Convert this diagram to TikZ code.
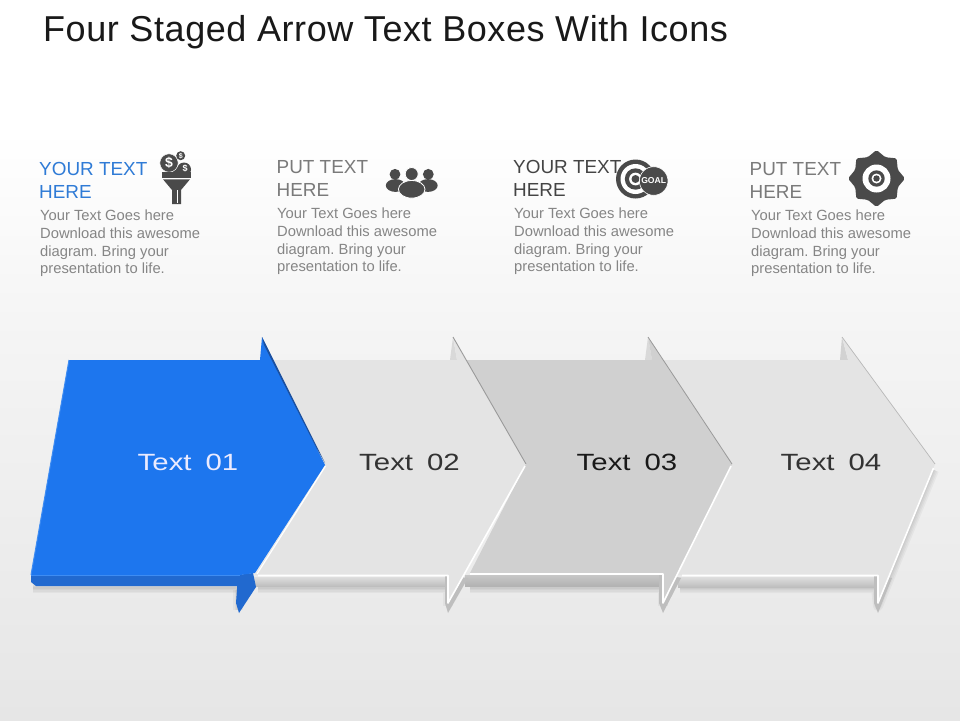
\documentclass[tikz,border=0pt]{standalone}
\usepackage{fontspec}
\setmainfont{Liberation Sans}
\newfontfamily\stagefont[FakeStretch=1.25]{Liberation Sans}
\newfontfamily\titlefont[LetterSpace=1.6]{Liberation Sans}
\frenchspacing
\usetikzlibrary{calc}
\definecolor{blueface}{HTML}{1D76EE}
\definecolor{blueside}{HTML}{2169CF}
\definecolor{bluedark}{HTML}{1B4F9E}
\definecolor{bluelight}{HTML}{3E8CF2}
\definecolor{greyface}{HTML}{E4E4E4}
\definecolor{midface}{HTML}{D0D0D0}
\definecolor{sidegrey}{HTML}{BEBEBE}
\definecolor{sidelight}{HTML}{DEDEDE}
\definecolor{edgegrey}{HTML}{9A9A9A}
\definecolor{headblue}{HTML}{2F7BD6}
\definecolor{headgrey}{HTML}{7A7A7A}
\definecolor{headdark}{HTML}{444444}
\definecolor{bodygrey}{HTML}{858585}
\definecolor{icongrey}{HTML}{4A4A4A}
\definecolor{bgmid}{HTML}{F4F4F4}
\definecolor{bgend}{HTML}{E6E6E6}
\tikzset{
  x=1pt,y=-1pt,
  head/.style={anchor=north west,inner sep=0pt,align=left,font=\fontsize{18.9}{23}\selectfont},
  bodytext/.style={anchor=north west,inner sep=0pt,align=left,text=bodygrey,font=\fontsize{14.75}{17.6}\selectfont},
  stagelabel/.style={inner sep=0pt,font=\stagefont\fontsize{23.5}{26}\selectfont},
  softshadow/.style={draw=black,draw opacity=.035,line cap=butt,line join=round},
  highlight/.style={draw=white,line width=1.6pt,line join=round},
  darkedge/.style={draw=edgegrey,line width=.9pt},
  icon/.style={fill=icongrey,draw=none},
  ringwhite/.style={fill=white,draw=none},
  sideband/.style={top color=sidelight,bottom color=sidegrey,draw=none}
}
\begin{document}
\begin{tikzpicture}
\useasboundingbox (0,0) rectangle (960,720);
% background
\fill[white] (0,0) rectangle (960,130);
\shade[top color=white,bottom color=bgmid] (0,130) rectangle (960,340);
\shade[top color=bgmid,bottom color=bgend] (0,340) rectangle (960,720);

\node[anchor=base west,inner sep=0pt,font=\titlefont\fontsize{36}{39}\selectfont,text=black!90] (title) at (43,41) {Four Staged Arrow Text Boxes With Icons};

% ---- arrow 4
\foreach \w in {10,7,4,1.5}{
  \draw[softshadow,line width=\w pt] (680,588) -- (876,588) -- (878,606) -- (934,470);}
\shade[sideband] (678,577) rectangle (880,587);
\fill[sidegrey!70!white] (840,360) -- (842,337) -- (848,360) -- cycle;
\fill[sidegrey] (874,575) -- (874,603) -- (878,613) -- (892,578) -- cycle;
\fill[greyface] (660,360) -- (848,360) -- (842,337) -- (935,464) -- (878,604) -- (878,575) -- (670,575) -- (732,464) -- cycle;
\draw[highlight] (682,575.5) -- (878,575.5) -- (878,603) -- (933.5,468);
\draw[draw=edgegrey!70!white,line width=.7pt] (842,337) -- (935,464);

% ---- arrow 3
\foreach \w in {10,7,4,1.5}{
  \draw[softshadow,line width=\w pt] (470,588) -- (663,588) -- (663,606);}
\shade[top color=black!22,bottom color=black!30] (465,575) rectangle (665,586);
\fill[white!85!black] (645,360) -- (648,337) -- (652,360) -- cycle;
\fill[sidegrey] (659,573) -- (659,603) -- (663,613) -- (681,578) -- cycle;
\fill[midface] (465,360) -- (652,360) -- (648,337) -- (732,464) -- (663,604) -- (663,573) -- (470,573) -- (526,464) -- cycle;
\draw[highlight] (470,574) -- (663,574) -- (663,603) -- (731,466);
\draw[draw=edgegrey,line width=.8pt] (648,337) -- (732,464);

% ---- arrow 2
\foreach \w in {10,7,4,1.5}{
  \draw[softshadow,line width=\w pt] (258,588) -- (448,588) -- (448,606);}
\shade[sideband] (252,577) rectangle (452,586);
\fill[white!85!black] (450,360) -- (453,337) -- (457,360) -- cycle;
\fill[sidegrey] (445,575) -- (445,603) -- (448,613) -- (468,578) -- cycle;
\fill[greyface] (262,360) -- (457,360) -- (453,337) -- (526,464) -- (448,604) -- (448,575) -- (255,575) -- (325,465) -- cycle;
\draw[highlight] (258,575.5) -- (448,575.5) -- (448,603) -- (525,466);
\draw[darkedge] (453,337) -- (526,464);

% ---- arrow 1
\foreach \w in {10,7,4,1.5}{
  \draw[softshadow,line width=\w pt] (33,588) -- (238,588);
  \draw[softshadow,line width=\w pt] (238,590) -- (238,610);}
\fill[blueside] (31,575) -- (31,582) -- (36,586) -- (240,586) -- (240,575) -- cycle;
\fill[blueside] (238,575) -- (236,603) -- (239,613) -- (256,587) -- (253,573) -- cycle;
\fill[blueface] (69,360) -- (260,360) -- (262,337) -- (325,465) -- (255,573) -- (240,575) -- (31,575) -- cycle;
\fill[bluedark] (262,337) -- (325,463) -- (317,449) -- (264,345) -- cycle;
\draw[bluelight,line width=1pt] (69,360) -- (31,575);
\draw[bluelight,line width=.8pt] (31,575.5) -- (240,575.5);
\draw[white,line width=1.2pt] (325.5,466) -- (257,574);

% stage labels
\node[stagelabel,text=white!92!blue] (t1) at (188,462) {Text\hspace{.25em} 01};
\node[stagelabel,text=black!80] (t2) at (409.5,462) {Text\hspace{.25em} 02};
\node[stagelabel,text=black!90] (t3) at (627,462) {Text\hspace{.25em} 03};
\node[stagelabel,text=black!80] (t4) at (831,462) {Text\hspace{.25em} 04};

% goal icon
\fill[icon] (635.5,179) circle (19.5);
\fill[ringwhite] (635.5,179) circle (15);
\fill[icon] (635.5,179) circle (10.7);
\fill[ringwhite] (635.5,179) circle (6.4);
\fill[icon] (635.5,179) circle (4);
\fill[icon,draw=white,line width=.6pt] (653.7,181) circle (14.3);
\node[inner sep=0pt,text=white,font=\bfseries\fontsize{8.6}{9}\selectfont] (goal) at (653.7,181) {GOAL};

% gear icon
\fill[icon,shift={(876.5,178.5)},rounded corners=1.6pt]
  (0:28.5) -- (22.5:23) -- (45:28.5) -- (67.5:23) -- (90:28.5) -- (112.5:23) -- (135:28.5) -- (157.5:23)
  -- (180:28.5) -- (202.5:23) -- (225:28.5) -- (247.5:23) -- (270:28.5) -- (292.5:23) -- (315:28.5) -- (337.5:23) -- cycle;
\fill[ringwhite] (876.5,178.5) circle (14);
\fill[icon] (876.5,178.5) circle (8.2);
\fill[ringwhite] (876.5,178.5) circle (5);
\fill[icon] (876.5,178.5) circle (3.2);

% text blocks
\node[head,text=headblue] (h1) at (39,162.5) {YOUR TEXT\\HERE};
\node[head,text=headgrey] (h2) at (276.5,160.5) {PUT TEXT\\HERE};
\node[head,text=headdark] (h3) at (513,160.5) {YOUR TEXT\\HERE};
\node[head,text=headgrey] (h4) at (749.5,162.5) {PUT TEXT\\HERE};
\node[bodytext] (b1) at (40,210) {Your Text Goes here\\Download this awesome\\diagram. Bring your\\presentation to life.};
\node[bodytext] (b2) at (277,208) {Your Text Goes here\\Download this awesome\\diagram. Bring your\\presentation to life.};
\node[bodytext] (b3) at (514,208) {Your Text Goes here\\Download this awesome\\diagram. Bring your\\presentation to life.};
\node[bodytext] (b4) at (751,210) {Your Text Goes here\\Download this awesome\\diagram. Bring your\\presentation to life.};

% funnel icon
\fill[icon] (165,166) rectangle (188,173);
\fill[icon] (184,169.5) circle (7);
\fill[icon,draw=white,line width=.5pt] (169,163) circle (9.2);
\fill[icon] (180.7,155.7) circle (4.5);
\fill[icon] (161.5,172) rectangle (190.7,178);
\fill[icon] (163,179.3) -- (190,179.3) -- (181,190) -- (181,204) -- (172,204) -- (172,190) -- cycle;
\draw[white,line width=.7pt] (177,190) -- (177,203);
\node[inner sep=0pt,text=white,font=\bfseries\fontsize{14}{14}\selectfont] (d1) at (169,163) {\$};
\node[inner sep=0pt,text=white,font=\bfseries\fontsize{7}{7}\selectfont] (d2) at (180.7,155.7) {\$};
\node[inner sep=0pt,text=white,font=\bfseries\fontsize{9}{9}\selectfont] (d3) at (185,168) {\$};

% people icon
\fill[icon] (395,174.3) circle (5.4);
\fill[icon] (428.3,174.3) circle (5.4);
\fill[icon] (395.5,185.5) ellipse (9.7 and 6.4);
\fill[icon] (428,185.5) ellipse (9.7 and 6.4);
\fill[icon,draw=white,line width=.8pt] (411.7,174) circle (6.5);
\fill[icon,draw=white,line width=.8pt] (411.7,189.3) ellipse (13.3 and 8.8);
\end{tikzpicture}
\end{document}
